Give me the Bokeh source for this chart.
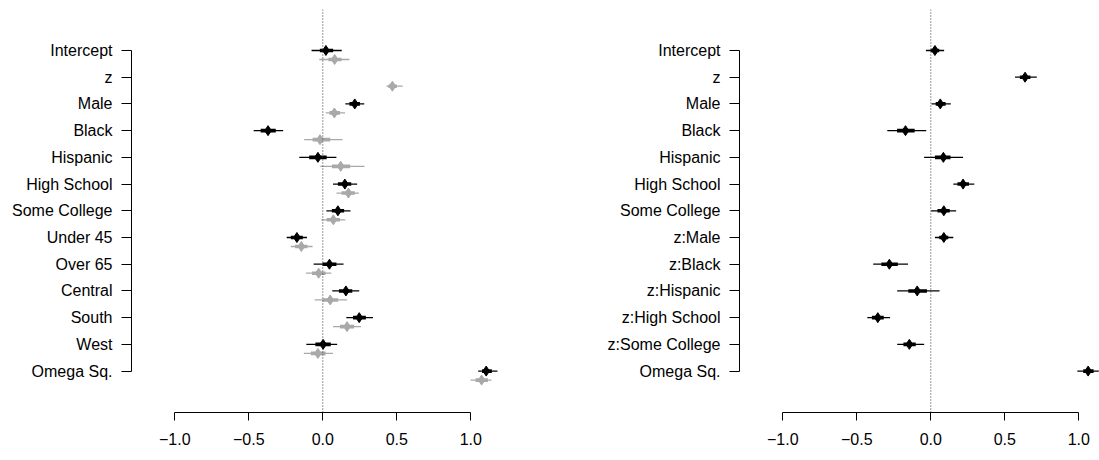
import math
from bokeh.plotting import figure
from bokeh.layouts import row
from bokeh.models import ColumnDataSource, Range1d, Span, FixedTicker
from bokeh.embed import file_html
from bokeh.resources import INLINE

nan = float("nan")

# ---------------- left panel ----------------
left_labels = ["Intercept", "z", "Male", "Black", "Hispanic", "High School",
               "Some College", "Under 45", "Over 65", "Central", "South",
               "West", "Omega Sq."]

# black series (no estimate for z)
lb_est = [0.021, nan, 0.216, -0.370, -0.033, 0.149, 0.102, -0.175, 0.045, 0.156, 0.246, 0.002, 1.104]
lb_lo = [-0.076, nan, 0.152, -0.467, -0.159, 0.069, 0.024, -0.244, -0.062, 0.064, 0.159, -0.111, 1.050]
lb_hi = [0.128, nan, 0.280, -0.268, 0.092, 0.232, 0.187, -0.107, 0.140, 0.246, 0.339, 0.097, 1.180]
lb_ilo = [-0.020, nan, 0.180, -0.420, -0.092, 0.102, 0.061, -0.216, -0.002, 0.109, 0.204, -0.050, 1.076]
lb_ihi = [0.070, nan, 0.251, -0.318, 0.026, 0.192, 0.144, -0.135, 0.092, 0.199, 0.291, 0.054, 1.142]

# gray series
lg_est = [0.080, 0.470, 0.078, -0.019, 0.121, 0.173, 0.071, -0.145, -0.028, 0.050, 0.164, -0.033, 1.073]
lg_lo = [-0.024, 0.430, 0.020, -0.126, -0.017, 0.092, -0.009, -0.216, -0.114, -0.055, 0.069, -0.128, 0.998]
lg_hi = [0.180, 0.540, 0.150, 0.133, 0.282, 0.244, 0.152, -0.069, 0.057, 0.164, 0.258, 0.069, 1.140]
lg_ilo = [0.038, 0.443, 0.045, -0.069, 0.061, 0.126, 0.026, -0.187, -0.073, 0.000, 0.116, -0.081, 1.032]
lg_ihi = [0.126, 0.500, 0.116, 0.050, 0.185, 0.216, 0.116, -0.104, 0.019, 0.104, 0.211, 0.019, 1.116]

# ---------------- right panel ----------------
right_labels = ["Intercept", "z", "Male", "Black", "Hispanic", "High School",
                "Some College", "z:Male", "z:Black", "z:Hispanic",
                "z:High School", "z:Some College", "Omega Sq."]
r_est = [0.028, 0.637, 0.064, -0.171, 0.085, 0.218, 0.088, 0.088, -0.280, -0.092, -0.358, -0.145, 1.063]
r_lo = [-0.033, 0.569, 0.005, -0.294, -0.045, 0.152, 0.002, 0.028, -0.389, -0.227, -0.429, -0.227, 0.990]
r_hi = [0.090, 0.716, 0.135, -0.031, 0.218, 0.294, 0.171, 0.152, -0.154, 0.059, -0.275, -0.045, 1.135]
r_ilo = [0.000, 0.602, 0.033, -0.228, 0.028, 0.180, 0.045, 0.057, -0.334, -0.152, -0.398, -0.185, 1.030]
r_ihi = [0.057, 0.673, 0.100, -0.109, 0.133, 0.258, 0.128, 0.118, -0.223, -0.026, -0.318, -0.102, 1.100]

x_ticks = [-1.0, -0.5, 0.0, 0.5, 1.0]
x_tick_labels = ["\u22121.0", "\u22120.5", "0.0", "0.5", "1.0"]

FONT = "Liberation Sans"
FSIZE = "16px"
GRAY = "#A9A9A9"
GRAY_OFFSET = 0.337


def make_fig(labels, width, border_left, border_right, x_start, x_end):
    p = figure(width=width, height=460, output_backend="svg", toolbar_location=None,
               x_range=Range1d(x_start, x_end), y_range=Range1d(13.55, -1.534),
               min_border_left=border_left, min_border_right=border_right,
               min_border_top=9, min_border_bottom=48)
    p.grid.visible = False
    p.outline_line_color = None
    p.background_fill_color = "white"
    p.border_fill_color = "white"

    # x axis
    xa = p.xaxis[0]
    xa.ticker = FixedTicker(ticks=x_ticks)
    xa.major_label_overrides = {t: l for t, l in zip(x_ticks, x_tick_labels)}
    xa.bounds = (x_ticks[0], x_ticks[-1])
    xa.minor_tick_line_color = None
    xa.major_tick_in = 0
    xa.major_tick_out = 8
    xa.major_label_standoff = 12
    xa.axis_line_color = "black"
    xa.major_tick_line_color = "black"
    xa.major_label_text_font = FONT
    xa.major_label_text_font_size = FSIZE
    xa.major_label_text_color = "black"

    # y axis
    ya = p.yaxis[0]
    ya.ticker = FixedTicker(ticks=list(range(len(labels))))
    ya.major_label_overrides = {i: l for i, l in enumerate(labels)}
    ya.bounds = (0, len(labels) - 1)
    ya.minor_tick_line_color = None
    ya.major_tick_in = 0
    ya.major_tick_out = 10
    ya.major_label_standoff = 9
    ya.axis_line_color = "black"
    ya.major_tick_line_color = "black"
    ya.major_label_text_font = FONT
    ya.major_label_text_font_size = FSIZE
    ya.major_label_text_color = "black"

    p.add_layout(Span(location=0, dimension="height", line_color="#333333",
                      line_width=1, line_dash="1 2"))
    return p


def add_series(p, est, lo, hi, ilo, ihi, offset, color):
    ys = [i + offset for i in range(len(est))]
    keep = [i for i in range(len(est)) if not math.isnan(est[i])]
    src = ColumnDataSource(dict(
        y=[ys[i] for i in keep], est=[est[i] for i in keep],
        lo=[lo[i] for i in keep], hi=[hi[i] for i in keep],
        ilo=[ilo[i] for i in keep], ihi=[ihi[i] for i in keep]))
    p.segment(x0="lo", y0="y", x1="hi", y1="y", source=src, line_color=color, line_width=1.3)
    p.segment(x0="ilo", y0="y", x1="ihi", y1="y", source=src, line_color=color, line_width=3.6)
    p.scatter(x="est", y="y", source=src, marker="diamond", size=10,
              fill_color=color, line_color=color)


x0 = -1.2926
p1 = make_fig(left_labels, 550, 131, 20, x0, x0 + 399 / 148)
add_series(p1, lg_est, lg_lo, lg_hi, lg_ilo, lg_ihi, GRAY_OFFSET, GRAY)
add_series(p1, lb_est, lb_lo, lb_hi, lb_ilo, lb_ihi, 0.0, "black")

p2 = make_fig(right_labels, 549, 189, 0, x0, x0 + 360 / 148)
add_series(p2, r_est, r_lo, r_hi, r_ilo, r_ihi, 0.0, "black")

layout = row(p1, p2)
open("out.html", "w").write(file_html(layout, INLINE))
